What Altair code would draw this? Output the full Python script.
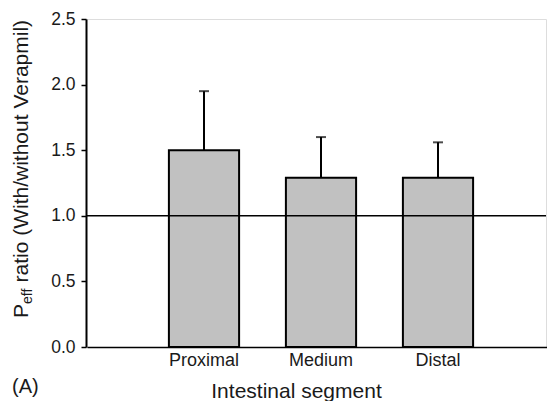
import altair as alt
import pandas as pd

# Data
segments = ["Proximal", "Medium", "Distal"]
ratio_mean = [1.50, 1.29, 1.29]
ratio_upper = [1.95, 1.60, 1.56]
reference_line = [1.0]

df = pd.DataFrame({"segment": segments, "mean": ratio_mean, "upper": ratio_upper})
ref_df = pd.DataFrame({"ref": reference_line})

FONT = "Liberation Sans"
W, H = 460, 328

x_scale = alt.Scale(paddingInner=0.4, paddingOuter=0.7, range=[1, 469])

x_enc = alt.X(
    "segment:N",
    sort=segments,
    scale=x_scale,
    axis=alt.Axis(
        title="Intestinal segment",
        labelAngle=0,
        ticks=False,
        tickSize=0,
        labelPadding=4,
        labelFontSize=18,
        labelColor="#1a1a1a",
        labelFont=FONT,
        domainColor="black",
        domainWidth=1.5,
        titleFont=FONT,
        titleFontSize=21,
        titleFontWeight="normal",
        titleColor="#1a1a1a",
        titleBaseline="alphabetic",
        titleX=210,
        titleY=50,
        titleAlign="center",
    ),
)

y_scale = alt.Scale(domain=[0, 2.5], nice=False, zero=True)
y_axis = alt.Axis(
    title=None,
    values=[0, 0.5, 1.0, 1.5, 2.0, 2.5],
    format=".1f",
    grid=False,
    tickSize=5,
    tickWidth=1.5,
    tickColor="black",
    labelPadding=6,
    labelFontSize=17.5,
    labelFont=FONT,
    labelColor="#1a1a1a",
    domainColor="black",
    domainWidth=2,
)

bars = alt.Chart(df).mark_bar(
    color="#c1c1c1", stroke="black", strokeWidth=2
).encode(
    x=x_enc,
    y=alt.Y("mean:Q", scale=y_scale, axis=y_axis),
)

err = alt.Chart(df).mark_rule(color="black", strokeWidth=2).encode(
    x=alt.X("segment:N", sort=segments),
    y="mean:Q",
    y2="upper:Q",
)

caps = alt.Chart(df).mark_tick(color="black", size=10, thickness=2).encode(
    x=alt.X("segment:N", sort=segments),
    y="upper:Q",
)

ref_rule = alt.Chart(ref_df).mark_rule(color="black", strokeWidth=1.5).encode(
    y="ref:Q",
)

title_style = dict(angle=270, align="left", baseline="alphabetic", font=FONT, color="#1a1a1a")

t_p = alt.Chart(ref_df).mark_text(text="P", fontSize=21, **title_style).encode(
    x=alt.value(-58), y=alt.value(299)
)
t_eff = alt.Chart(ref_df).mark_text(text="eff", fontSize=14, **title_style).encode(
    x=alt.value(-54), y=alt.value(285)
)
t_rest = alt.Chart(ref_df).mark_text(
    text="ratio (With/without Verapmil)", fontSize=21, **title_style
).encode(x=alt.value(-58), y=alt.value(263.5))

t_a = alt.Chart(ref_df).mark_text(
    text="(A)", fontSize=20, align="left", baseline="alphabetic", font=FONT, color="#1a1a1a"
).encode(x=alt.value(-74), y=alt.value(374))

chart = (
    alt.layer(bars, ref_rule, err, caps, t_p, t_eff, t_rest, t_a)
    .properties(
        width=W,
        height=H,
        autosize=alt.AutoSizeParams(type="none"),
        padding={"left": 78, "top": 11, "right": 1, "bottom": 54},
    )
    .configure_view(stroke="#333333", strokeWidth=1)
    .configure(background="white")
)

chart.save("out.html", embed_options={"renderer": "svg", "actions": False})
